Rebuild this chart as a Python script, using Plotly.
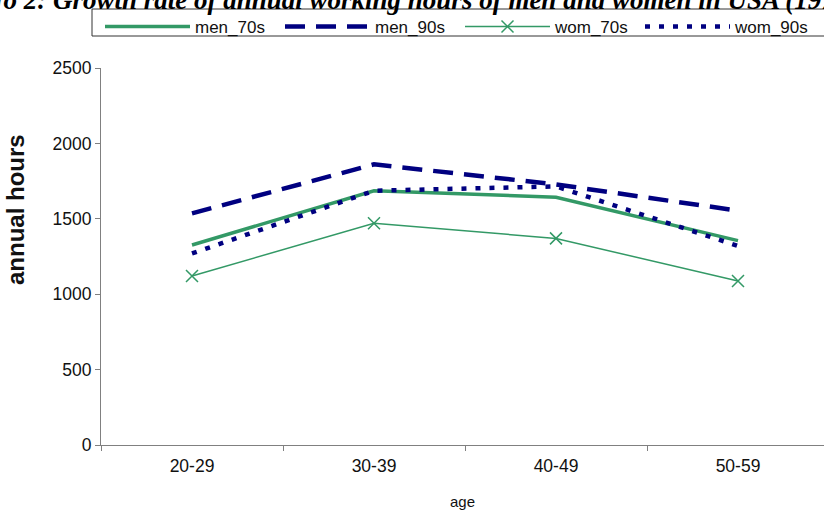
import plotly.graph_objects as go

ages = ["20-29", "30-39", "40-49", "50-59"]
men_70s = [1326, 1686, 1643, 1355]
men_90s = [1536, 1861, 1728, 1554]
wom_70s = [1121, 1470, 1370, 1087]
wom_90s = [1270, 1686, 1715, 1320]

green = "#339966"
navy = "#000080"

W, H = 824, 510
L, R, T, B = 101, 0, 68, 65
PW, PH = W - L - R, H - T - B


def px_x(p):
    return (p - L) / PW


def px_y(p):
    return 1 + (T - p) / PH


fig = go.Figure()
fig.add_trace(go.Scatter(x=ages, y=men_70s, name="men_70s", mode="lines",
                         line=dict(color=green, width=3.5)))
fig.add_trace(go.Scatter(x=ages, y=men_90s, name="men_90s", mode="lines",
                         line=dict(color=navy, width=4.5, dash="20px,11px")))
fig.add_trace(go.Scatter(x=ages, y=wom_70s, name="wom_70s", mode="lines+markers",
                         line=dict(color=green, width=1.5),
                         marker=dict(symbol="x-thin", size=12,
                                     line=dict(color=green, width=1.5))))
fig.add_trace(go.Scatter(x=ages, y=wom_90s, name="wom_90s", mode="lines",
                         line=dict(color=navy, width=4.5, dash="5px,9px")))

fig.update_layout(
    width=W, height=H,
    margin=dict(l=L, r=R, t=T, b=B, autoexpand=False),
    paper_bgcolor="white", plot_bgcolor="white",
    font=dict(family="Liberation Sans, Arial, sans-serif", color="#222222"),
    showlegend=True,
    legend=dict(orientation="h", x=100 / W, xanchor="left",
                xref="container", yref="container", y=1 - 9 / H, yanchor="top",
                borderwidth=0, bgcolor="rgba(0,0,0,0)",
                entrywidth=80, entrywidthmode="pixels",
                font=dict(size=17, color="#111111"),
                itemwidth=85, tracegroupgap=0),
    shapes=[dict(type="rect", xref="paper", yref="paper",
                 x0=px_x(92), x1=px_x(840), y0=px_y(36), y1=px_y(9),
                 line=dict(color="#333333", width=1), fillcolor="rgba(0,0,0,0)",
                 layer="above")],
    annotations=[
        dict(text="<b><i>No 2: Growth rate of annual working hours of men and women in USA (1970s-1990s)</i></b>",
             xref="paper", yref="paper", x=px_x(-19), y=px_y(0),
             xanchor="left", yanchor="middle", showarrow=False,
             font=dict(family="Liberation Serif, Times New Roman, serif", size=27, color="#000000")),
        dict(text="<b>annual hours</b>", textangle=-90,
             xref="paper", yref="paper", x=px_x(16), y=px_y(210),
             xanchor="center", yanchor="middle", showarrow=False,
             font=dict(size=24, color="#111111")),
    ],
)

fig.update_xaxes(
    type="category", range=[-0.5, 3.4725],
    showline=True, linecolor="#808080", linewidth=1,
    ticks="outside", tickson="boundaries", ticklen=5, tickcolor="#808080",
    showgrid=False, tickfont=dict(size=17.5, color="#111111"), ticklabelstandoff=5,
    title=dict(text="age", font=dict(size=15, color="#111111"), standoff=22),
)
fig.update_yaxes(
    range=[0, 2500], dtick=500,
    showline=True, linecolor="#808080", linewidth=1,
    ticks="outside", ticklen=5, tickcolor="#808080",
    showgrid=False, zeroline=False, tickfont=dict(size=17.5, color="#111111"),
)

fig.write_html("out.html", config={"displayModeBar": False},
               post_script="document.body.style.margin='0';document.body.style.padding='0';")
